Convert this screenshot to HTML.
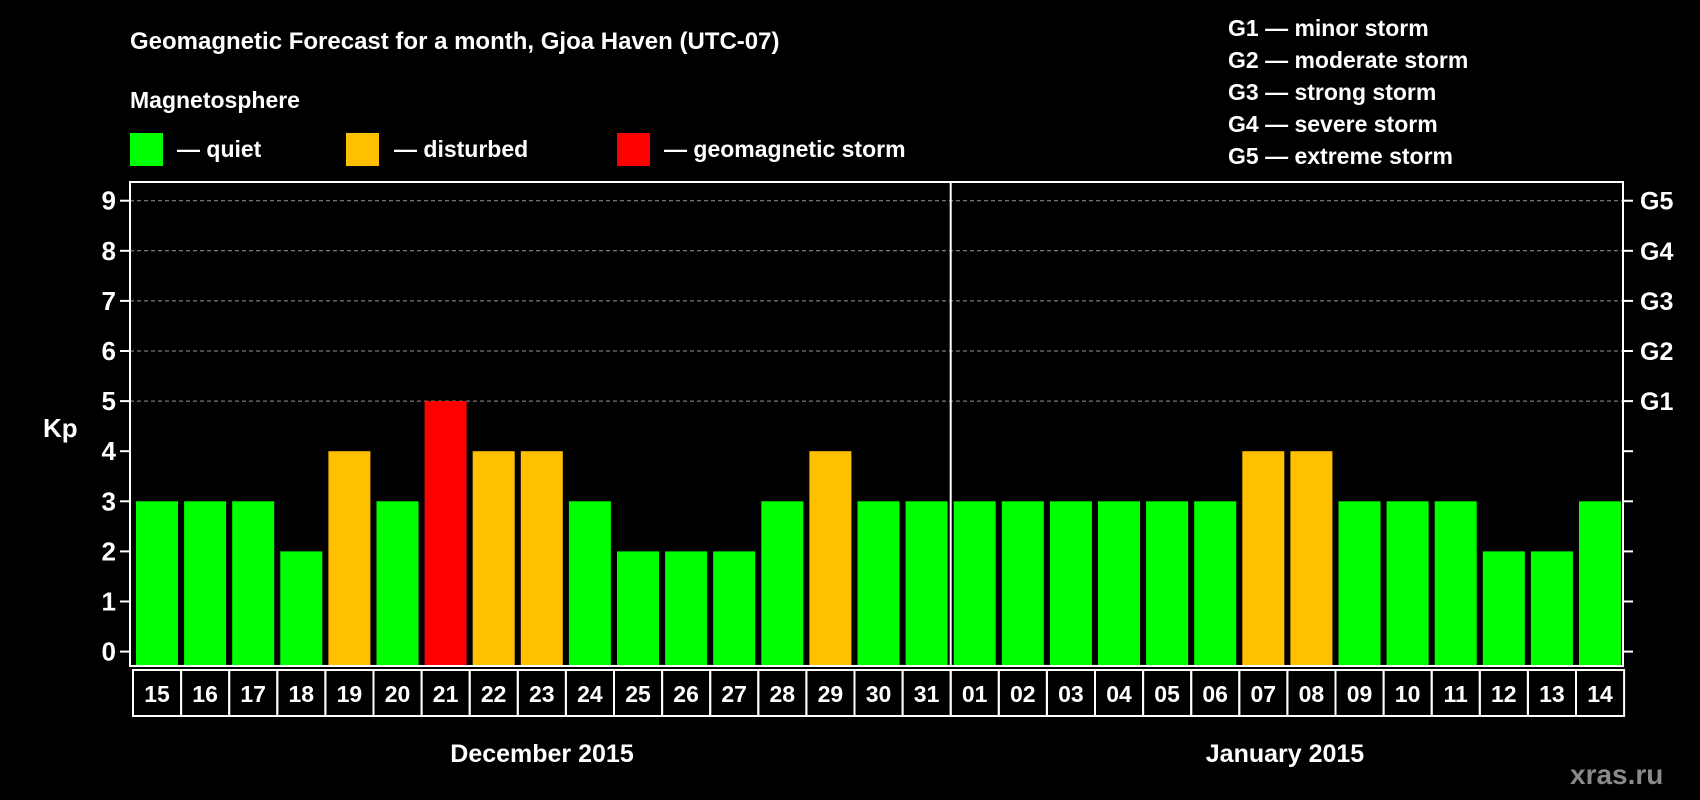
<!DOCTYPE html>
<html><head><meta charset="utf-8"><style>
body{margin:0;background:#000;width:1700px;height:800px;overflow:hidden}
svg{display:block;font-family:"Liberation Sans",Arial,sans-serif;font-weight:bold}
</style></head><body>
<svg id="c" width="1700" height="800" xmlns="http://www.w3.org/2000/svg">
<text x="130" y="49" fill="#fff" font-size="24">Geomagnetic Forecast for a month, Gjoa Haven (UTC-07)</text>
<text x="130" y="108" fill="#fff" font-size="23">Magnetosphere</text>
<rect x="130" y="133" width="33" height="33" fill="#00ff00"/>
<text x="177" y="157" fill="#fff" font-size="23">— quiet</text>
<rect x="346" y="133" width="33" height="33" fill="#ffc000"/>
<text x="394" y="157" fill="#fff" font-size="23">— disturbed</text>
<rect x="617" y="133" width="33" height="33" fill="#ff0000"/>
<text x="664" y="157" fill="#fff" font-size="23">— geomagnetic storm</text>
<g fill="#fff" font-size="23">
<text x="1228" y="36">G1 — minor storm</text>
<text x="1228" y="68">G2 — moderate storm</text>
<text x="1228" y="100">G3 — strong storm</text>
<text x="1228" y="132">G4 — severe storm</text>
<text x="1228" y="164">G5 — extreme storm</text>
</g>
<text x="43" y="437" fill="#fff" font-size="26">Kp</text>
<text x="1570" y="784" fill="#8a8a8a" font-size="28">xras.ru</text>
<text x="542" y="762" fill="#fff" font-size="25" text-anchor="middle">December 2015</text>
<text x="1285" y="762" fill="#fff" font-size="25" text-anchor="middle">January 2015</text>
<g id="plot"></g>
</svg>
<script>
const days=["15","16","17","18","19","20","21","22","23","24","25","26","27","28","29","30","31","01","02","03","04","05","06","07","08","09","10","11","12","13","14"];
const kpValues=[3,3,3,2,4,3,5,4,4,3,2,2,2,3,4,3,3,3,3,3,3,3,3,4,4,3,3,3,2,2,3];
const yTicks=[0,1,2,3,4,5,6,7,8,9];
const gLabels=["G1","G2","G3","G4","G5"];
const NS="http://www.w3.org/2000/svg";
const L=130,R=1623,T=182,B=666,Y0=651.6,U=50.1,X0=136,S=48.1,BW=42;
const y=v=>Y0-v*U, x=i=>X0+i*S;
const g=document.getElementById('plot');
function mk(t,a){const e=document.createElementNS(NS,t);for(const k in a)e.setAttribute(k,a[k]);g.appendChild(e);return e;}
yTicks.forEach(v=>{
 if(v>=5){const l=mk('line',{x1:L,x2:R,y1:y(v),y2:y(v),stroke:'#999','stroke-dasharray':'4,3','stroke-width':1});
 
 }
 const t=mk('line',{x1:L-10,x2:L,y1:y(v),y2:y(v),stroke:'#fff','stroke-width':2});
 
 
 const t2=mk('line',{x1:R,x2:R+10,y1:y(v),y2:y(v),stroke:'#fff','stroke-width':2});
 
 
 const tx=mk('text',{x:L-14,y:y(v)+9,fill:'#fff','font-size':26,'text-anchor':'end'});tx.textContent=v;
 
 
});
gLabels.forEach((s,i)=>{const t=mk('text',{x:R+17,y:y(5+i)+9,fill:'#fff','font-size':25});t.textContent=s;
 
 });
kpValues.forEach((v,i)=>{
 const c=v>=5?'#ff0000':v>=4?'#ffc000':'#00ff00';
 const r=mk('rect',{x:x(i),y:y(v),width:BW,height:y(0)-y(v)+14,fill:c});
 
 
 const b=mk('rect',{x:x(i)-3,y:670,width:S,height:46,fill:'none',stroke:'#fff','stroke-width':2});
 
 
 const t=mk('text',{x:x(i)+BW/2,y:702,fill:'#fff','font-size':23,'text-anchor':'middle'});t.textContent=days[i];
 
 
});
const fr=mk('rect',{x:L,y:T,width:R-L,height:B-T,fill:'none',stroke:'#fff','stroke-width':2});


const sep=mk('line',{x1:x(17)-3,x2:x(17)-3,y1:T,y2:B,stroke:'#fff','stroke-width':2});


</script>
</body></html>
